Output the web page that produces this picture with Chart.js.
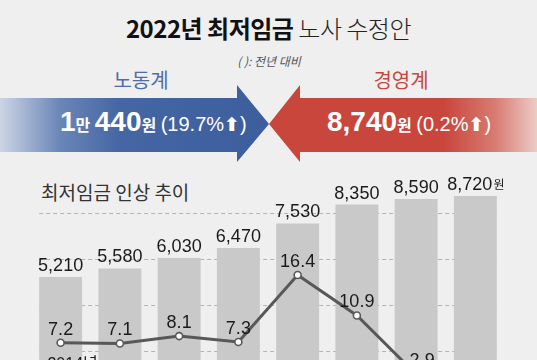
<!DOCTYPE html>
<html>
<head>
<meta charset="utf-8">
<script src="https://cdn.jsdelivr.net/npm/chart.js"></script>
<style>
  html, body { margin: 0; padding: 0; }
  body {
    width: 537px; height: 360px; overflow: hidden; position: relative;
    background: #efefef;
    font-family: "Liberation Sans", "Noto Sans CJK KR", sans-serif;
  }
  .abs { position: absolute; }
  .kr { font-family: "Noto Sans CJK KR", sans-serif; }
  #title { top: 14px; left: 0; width: 537px; text-align: center; font-size: 24px; line-height: 28px; color: #111; letter-spacing: -0.5px; }
  #title b { font-weight: 700; }
  #title span { font-weight: 300; color: #222; }
  #sub { top: 52px; left: 219px; width: 100px; text-align: center; font-size: 12px; font-style: italic; color: #555; }
  .side { top: 68px; width: 100px; text-align: center; font-size: 20px; line-height: 24px; }
  .arrow { top: 85px; height: 77px; }
  #blue {
    left: 0; width: 269px;
    clip-path: polygon(0 13px, 237px 13px, 237px 0, 269px 39px, 237px 77px, 237px 67px, 0 67px);
    background: linear-gradient(to right, #cdd5e4 0px, #6a86b8 60px, #4566a3 120px, #3c5e9d 269px);
  }
  #red {
    left: 269px; width: 268px;
    clip-path: polygon(0 39px, 31px 0, 31px 13px, 268px 13px, 268px 67px, 31px 67px, 31px 77px, 0 39px);
    background: linear-gradient(to right, #c9463d 0px, #c9463d 175px, #d77a70 225px, #ecccc6 268px);
  }
  .atext { top: 104px; color: #fff; white-space: nowrap; line-height: 36px; }
  .big { font-size: 28px; font-weight: 700; }
  .small { font-size: 16px; font-weight: 700; }
  .pct { font-size: 20px; }
  .up { font-family: "DejaVu Sans"; font-size: 19px; font-weight: bold; }
  #chartTitle { top: 180px; left: 41px; font-size: 19px; color: #333; line-height: 24px; }
  #wrap { position: absolute; left: 0; top: 165px; width: 537px; height: 195px; }
</style>
</head>
<body>
<div id="title" class="abs kr"><b>2022년 최저임금</b> <span>노사 수정안</span></div>
<div id="sub" class="abs kr">( ): 전년 대비</div>
<div class="abs side kr" style="left:91px;color:#4d6ea8;">노동계</div>
<div class="abs side kr" style="left:351px;color:#c8473f;">경영계</div>
<div id="blue" class="abs arrow"></div>
<div id="red" class="abs arrow"></div>
<div class="abs atext" style="left:60px;"><span class="big">1</span><span class="small kr">만</span> <span class="big">440</span><span class="small kr">원</span> <span class="pct">(19.7%<span class="up">⬆</span>)</span></div>
<div class="abs atext" style="left:327px;"><span class="big">8,740</span><span class="small kr">원</span> <span class="pct">(0.2%<span class="up">⬆</span>)</span></div>
<div id="chartTitle" class="abs kr">최저임금 인상 추이</div>
<div id="wrap"><canvas id="c"></canvas></div>
<script>
// minimum wage (won) and yearly raise (%)
var years = ['2014', '2015', '2016', '2017', '2018', '2019', '2020', '2021'];
var wage = [5210, 5580, 6030, 6470, 7530, 8350, 8590, 8720];
var raise = [7.2, 7.1, 8.1, 7.3, 16.4, 10.9, 2.9, 1.5];
var gridValues = [2000, 4000, 6000, 8000];

var numFont = '18px "Liberation Sans", Arial, sans-serif';

var gridPlugin = {
  id: 'grid',
  beforeDatasetsDraw: function(chart) {
    var ctx = chart.ctx;
    var bars = chart.getDatasetMeta(1).data;
    var x0 = bars[0].x - bars[0].width / 2;
    var x1 = bars[bars.length - 1].x + bars[bars.length - 1].width / 2;
    ctx.save();
    ctx.strokeStyle = '#b4b4b4';
    ctx.lineWidth = 1;
    ctx.setLineDash([4, 3]);
    gridValues.forEach(function(v) {
      var y = Math.round(chart.scales.y.getPixelForValue(v)) + 0.5;
      ctx.beginPath();
      ctx.moveTo(x0, y);
      ctx.lineTo(x1, y);
      ctx.stroke();
    });
    ctx.restore();
  }
};

var labelPlugin = {
  id: 'labels',
  afterDatasetsDraw: function(chart) {
    var ctx = chart.ctx;
    ctx.save();
    ctx.fillStyle = '#1a1a1a';
    ctx.textAlign = 'center';
    ctx.textBaseline = 'alphabetic';
    // bar values
    var bars = chart.getDatasetMeta(1).data;
    bars.forEach(function(b, i) {
      var txt = wage[i].toLocaleString('en-US');
      if (i == bars.length - 1) {
        ctx.font = numFont;
        var w1 = ctx.measureText(txt).width;
        ctx.font = '12px "Noto Sans CJK KR"';
        var w2 = ctx.measureText('원').width;
        var sx = b.x - (w1 + w2) / 2;
        ctx.textAlign = 'left';
        ctx.font = numFont;
        ctx.fillText(txt, sx, b.y - 6);
        ctx.font = '12px "Noto Sans CJK KR"';
        ctx.fillText('원', sx + w1 + 1, b.y - 7);
        ctx.textAlign = 'center';
      } else {
        ctx.font = numFont;
        ctx.fillText(txt, b.x, b.y - 6);
      }
    });
    // line values
    ctx.font = numFont;
    var pts = chart.getDatasetMeta(0).data;
    pts.forEach(function(p, i) {
      ctx.fillText(raise[i].toFixed(1), p.x + (i == 6 ? 6 : 0), p.y - 8);
    });
    // first year caption, mostly cut off at the bottom edge
    ctx.font = '16px "Liberation Sans", "Noto Sans CJK KR"';
    ctx.textBaseline = 'top';
    ctx.fillText(years[0] + '년', bars[0].x + 12, 192);
    ctx.restore();
  }
};

new Chart(document.getElementById('c'), {
  data: {
    labels: years,
    datasets: [{
      type: 'line',
      data: raise,
      yAxisID: 'y1',
      order: 0,
      borderColor: '#585858',
      borderWidth: 3,
      pointRadius: 3.5,
      pointBorderWidth: 1.6,
      pointBackgroundColor: '#ffffff',
      pointBorderColor: '#585858',
      tension: 0,
      clip: false
    }, {
      type: 'bar',
      data: wage,
      yAxisID: 'y',
      order: 1,
      backgroundColor: '#c9c9c9',
      categoryPercentage: 1,
      barPercentage: 0.725
    }]
  },
  options: {
    responsive: true,
    maintainAspectRatio: false,
    animation: false,
    layout: { autoPadding: false, padding: { top: 25, left: 31, right: 32, bottom: 0 } },
    plugins: { legend: { display: false }, tooltip: { enabled: false } },
    scales: {
      x: { display: false },
      y: { display: false, min: 1614, max: 8980 },
      y1: { display: false, min: 4.85, max: 27.95 }
    }
  },
  plugins: [gridPlugin, labelPlugin]
});
</script>
</body>
</html>
